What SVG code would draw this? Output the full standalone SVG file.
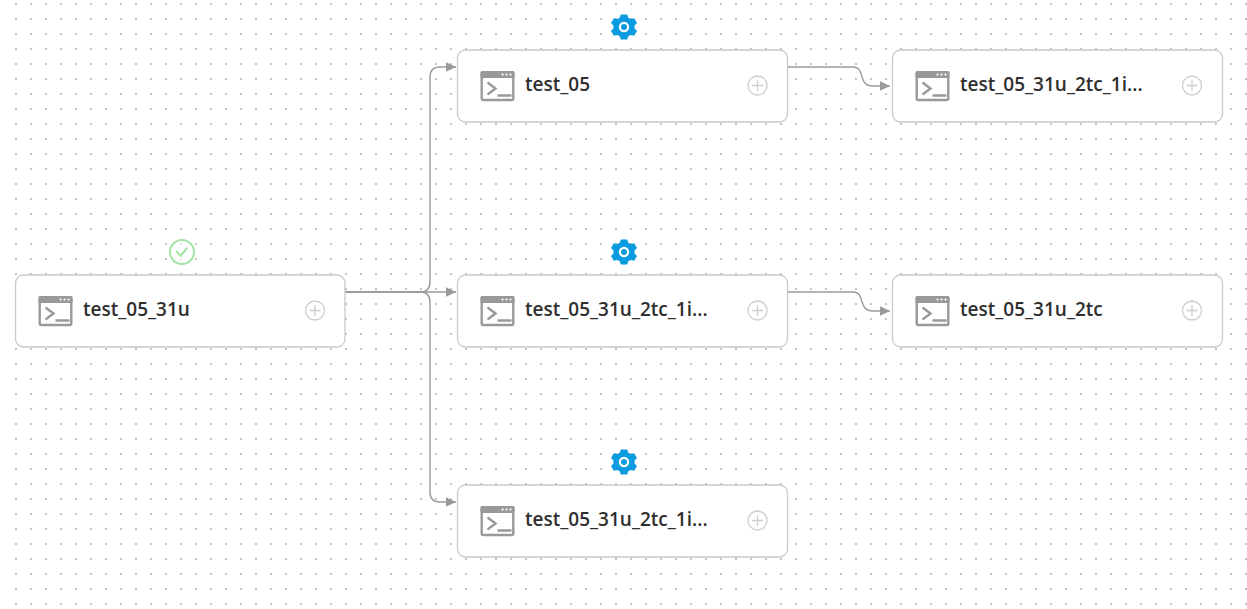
<svg xmlns="http://www.w3.org/2000/svg" xmlns:xlink="http://www.w3.org/1999/xlink" width="1247" height="609" viewBox="0 0 1247 609">
<style>
.card{fill:#fff;stroke:#c9c9c9;stroke-width:1.3}
.label{font-family:"Open Sans","Noto Sans","Liberation Sans",sans-serif;font-size:19px;font-weight:600;fill:#2f2f2f}
.conn{fill:none;stroke:#9a9a9a;stroke-width:1.4}
.plus{fill:none;stroke:#cfcfcf;stroke-width:1.3}
.term{fill:none;stroke:#999;stroke-width:2.4}
</style>
<defs>
<pattern id="dots" x="15" y="3" width="15" height="15" patternUnits="userSpaceOnUse"><rect x="0" y="0" width="2" height="2" fill="#c4c4c4"/></pattern>
<marker id="arrow" markerUnits="userSpaceOnUse" markerWidth="12" markerHeight="12" refX="10" refY="6" orient="auto"><path d="M0,1.2 L10,6 L0,10.8 Z" fill="#9a9a9a"/></marker>
<g id="icon">
<rect x="1.200" y="1.200" width="31.600" height="27.800" rx="1.500" class="term"/>
<rect x="0" y="0" width="34" height="7" rx="1.500" fill="#999"/>
<circle cx="22" cy="3.500" r="1.100" fill="#fff"/><circle cx="26" cy="3.500" r="1.100" fill="#fff"/><circle cx="30" cy="3.500" r="1.100" fill="#fff"/>
<path d="M7,11.500 L15,17.500 L7,23.500 M17,24.500 H31" class="term"/>
</g>
<g id="plus"><circle cx="0" cy="0" r="9.500" class="plus"/><path d="M-5.500,0 H5.500 M0,-5.500 V5.500" class="plus"/></g>
<g id="gear">
<path fill="#0a9be0" fill-rule="evenodd" d="M-3.200,-12.600 L3.200,-12.600 L4.300,-9.300 L6.600,-8 L10.200,-8.700 L13,-3.900 L10.600,-1.400 V1.400 L13,3.900 L10.200,8.700 L6.600,8 L4.300,9.300 L3.200,12.600 L-3.200,12.600 L-4.300,9.300 L-6.600,8 L-10.200,8.700 L-13,3.900 L-10.600,1.400 V-1.400 L-13,-3.900 L-10.200,-8.700 L-6.600,-8 L-4.300,-9.300 Z M0,-5.200 A5.200,5.200 0 1 0 0,5.200 A5.200,5.200 0 1 0 0,-5.200 Z"/>
<circle cx="0" cy="0" r="3" fill="#0a9be0"/>
</g>
</defs>
<rect width="1247" height="609" fill="#fff"/>
<rect x="15" y="3" width="1232" height="606" fill="url(#dots)"/>
<g id="connectors">
<path class="conn" marker-end="url(#arrow)" d="M345,292 H456"/>
<path class="conn" marker-end="url(#arrow)" d="M345,292 H420 Q430,292 430,282 V77 Q430,67 440,67 H456"/>
<path class="conn" marker-end="url(#arrow)" d="M345,292 H420 Q430,292 430,302 V492 Q430,502 440,502 H456"/>
<path class="conn" marker-end="url(#arrow)" d="M788,67 H853 C866,67 857,86 873,86 H890"/>
<path class="conn" marker-end="url(#arrow)" d="M788,292 H853 C866,292 857,311 873,311 H890"/>
</g>
<g id="node-test_05_31u">
<rect class="card" x="15.500" y="275" width="329.500" height="72" rx="8"/>
<use href="#icon" xlink:href="#icon" x="38.500" y="296"/>
<text class="label" x="83" y="316">test_05_31u</text>
<use href="#plus" xlink:href="#plus" x="315" y="310.500"/>
<g transform="translate(182,252)"><circle r="12" fill="#fff" fill-opacity="0.6" stroke="#a3e2a5" stroke-width="2"/><path d="M-5.500,-1 L-1.500,4 L5.500,-4.500" fill="none" stroke="#a3e2a5" stroke-width="2"/></g>
</g>
<g id="node-test_05">
<rect class="card" x="457.500" y="50" width="330" height="72" rx="8"/>
<use href="#icon" xlink:href="#icon" x="480.500" y="71"/>
<text class="label" x="525" y="91">test_05</text>
<use href="#plus" xlink:href="#plus" x="757.500" y="85.500"/>
<use href="#gear" xlink:href="#gear" x="624" y="27"/>
</g>
<g id="node-test_05_31u_2tc_1i-a">
<rect class="card" x="457.500" y="275" width="330" height="72" rx="8"/>
<use href="#icon" xlink:href="#icon" x="480.500" y="296"/>
<text class="label" x="525" y="316">test_05_31u_2tc_1i...</text>
<use href="#plus" xlink:href="#plus" x="757.500" y="310.500"/>
<use href="#gear" xlink:href="#gear" x="624" y="252"/>
</g>
<g id="node-test_05_31u_2tc_1i-b">
<rect class="card" x="457.500" y="485" width="330" height="72" rx="8"/>
<use href="#icon" xlink:href="#icon" x="480.500" y="506"/>
<text class="label" x="525" y="526">test_05_31u_2tc_1i...</text>
<use href="#plus" xlink:href="#plus" x="757.500" y="520.500"/>
<use href="#gear" xlink:href="#gear" x="624" y="462"/>
</g>
<g id="node-test_05_31u_2tc_1i-c">
<rect class="card" x="892.500" y="50" width="330" height="72" rx="8"/>
<use href="#icon" xlink:href="#icon" x="915.500" y="71"/>
<text class="label" x="960" y="91">test_05_31u_2tc_1i...</text>
<use href="#plus" xlink:href="#plus" x="1192" y="85.500"/>
</g>
<g id="node-test_05_31u_2tc">
<rect class="card" x="892.500" y="275" width="330" height="72" rx="8"/>
<use href="#icon" xlink:href="#icon" x="915.500" y="296"/>
<text class="label" x="960" y="316">test_05_31u_2tc</text>
<use href="#plus" xlink:href="#plus" x="1192" y="310.500"/>
</g>
</svg>
